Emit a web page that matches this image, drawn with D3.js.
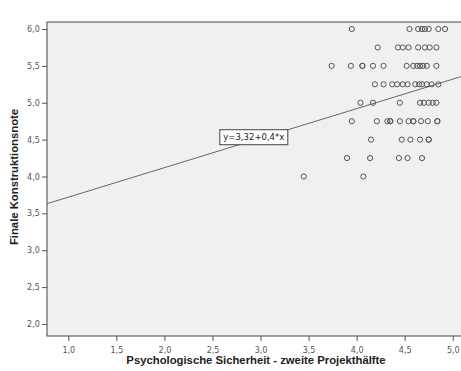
<!DOCTYPE html>
<html>
<head>
<meta charset="utf-8">
<script src="https://cdn.jsdelivr.net/npm/d3@7"></script>
<style>
  body { margin: 0; background: #fff; }
  svg { display: block; font-family: "Liberation Sans", Arial, sans-serif; }
</style>
</head>
<body>
<svg id="chart" width="461" height="371"></svg>
<script>
// Finale Konstruktionsnote (y) by Psychologische Sicherheit (x), one array per row
var rowNotes = [6.0, 5.75, 5.5, 5.25, 5.0, 4.75, 4.5, 4.25, 4.0];
var row60  = [3.95, 4.55, 4.64, 4.68, 4.71, 4.75, 4.85, 4.92];
var row575 = [4.22, 4.43, 4.48, 4.54, 4.64, 4.71, 4.76, 4.83];
var row55  = [3.74, 3.94, 4.06, 4.06, 4.17, 4.28, 4.52, 4.59, 4.63, 4.66, 4.69, 4.73, 4.83];
var row525 = [4.19, 4.28, 4.37, 4.42, 4.48, 4.53, 4.61, 4.65, 4.68, 4.73, 4.78, 4.85];
var row50  = [4.04, 4.17, 4.45, 4.66, 4.70, 4.75, 4.79, 4.83];
var row475 = [3.95, 4.21, 4.32, 4.35, 4.35, 4.45, 4.54, 4.59, 4.59, 4.67, 4.74, 4.84, 4.84];
var row45  = [4.15, 4.47, 4.56, 4.66, 4.75, 4.75];
var row425 = [3.90, 4.14, 4.44, 4.53, 4.68];
var row40  = [3.45, 4.07];

var xTicks = [1.0, 1.5, 2.0, 2.5, 3.0, 3.5, 4.0, 4.5, 5.0];
var yTicks = [2.0, 2.5, 3.0, 3.5, 4.0, 4.5, 5.0, 5.5, 6.0];

// regression y = a + b*x
var intercept = 3.32, slope = 0.4;
var fitLabel = "y=3,32+0,4*x";
var labelAtX = 2.93;

var rows = [row60, row575, row55, row525, row50, row475, row45, row425, row40];
var points = [];
rows.forEach(function(r, i) {
  r.forEach(function(v) { points.push({x: v, y: rowNotes[i]}); });
});

var svg = d3.select('#chart');
var pL = 47, pR = 461, pT = 22, pB = 336;

var x = d3.scaleLinear().domain([0.778, 5.086]).range([pL, pR]);
var y = d3.scaleLinear().domain([1.837, 6.095]).range([pB, pT]);
var fmt = function(d) { return d3.format('.1f')(d).replace('.', ','); };

svg.append('defs').append('clipPath').attr('id', 'clip')
  .append('rect').attr('x', pL).attr('y', pT)
  .attr('width', pR - pL).attr('height', pB - pT);

svg.append('rect')
  .attr('x', pL).attr('y', pT)
  .attr('width', pR - pL).attr('height', pB - pT)
  .attr('fill', '#f0f0f0');

var xAxis = svg.append('g')
  .attr('transform', 'translate(0,' + pB + ')')
  .call(d3.axisBottom(x).tickValues(xTicks).tickFormat(fmt).tickSize(5).tickSizeOuter(0));
var yAxis = svg.append('g')
  .attr('transform', 'translate(' + pL + ',0)')
  .call(d3.axisLeft(y).tickValues(yTicks).tickFormat(fmt).tickSize(5).tickSizeOuter(0));

[xAxis, yAxis].forEach(function(g) {
  g.select('.domain').remove();
  g.selectAll('line').attr('stroke', '#555');
  g.selectAll('text').attr('fill', '#555').style('font-size', '8px')
    .style('font-family', '"DejaVu Sans", sans-serif');
});
xAxis.selectAll('text').attr('dy', '1.1em');
yAxis.selectAll('text').attr('dx', '0.1em');

// fit line
svg.append('line')
  .attr('clip-path', 'url(#clip)')
  .attr('x1', x(0.778)).attr('y1', y(intercept + slope * 0.778))
  .attr('x2', x(5.086)).attr('y2', y(intercept + slope * 5.086))
  .attr('stroke', '#666').attr('stroke-width', 1);

svg.append('g').selectAll('circle')
  .data(points)
  .enter().append('circle')
  .attr('cx', function(d) { return x(d.x); })
  .attr('cy', function(d) { return y(d.y); })
  .attr('r', 2.6)
  .attr('fill', 'none')
  .attr('stroke', '#555')
  .attr('stroke-width', 1);

// frame
svg.append('rect')
  .attr('x', pL).attr('y', pT)
  .attr('width', pR - pL + 2).attr('height', pB - pT)
  .attr('fill', 'none').attr('stroke', '#444').attr('stroke-width', 1);

// label box on the line
var lx = x(labelAtX), ly = y(intercept + slope * labelAtX) - 3;
var lab = svg.append('g').attr('transform', 'translate(' + lx + ',' + ly + ')');
lab.append('rect')
  .attr('x', -34).attr('y', -7.5).attr('width', 68).attr('height', 15)
  .attr('fill', '#fff').attr('stroke', '#444').attr('stroke-width', 1);
lab.append('text')
  .attr('text-anchor', 'middle').attr('dy', '0.35em')
  .style('font-family', '"DejaVu Sans", sans-serif')
  .style('font-size', '8.5px').attr('fill', '#222')
  .text(fitLabel);

svg.append('text')
  .attr('x', 256).attr('y', 364)
  .attr('text-anchor', 'middle')
  .style('font-weight', 'bold').style('font-size', '11.3px').attr('fill', '#222')
  .text('Psychologische Sicherheit - zweite Projekthälfte');

svg.append('text')
  .attr('transform', 'translate(18,' + ((pT + pB) / 2 - 2) + ') rotate(-90)')
  .attr('text-anchor', 'middle')
  .style('font-weight', 'bold').style('font-size', '11.3px').attr('fill', '#222')
  .text('Finale Konstruktionsnote');
</script>
</body>
</html>
